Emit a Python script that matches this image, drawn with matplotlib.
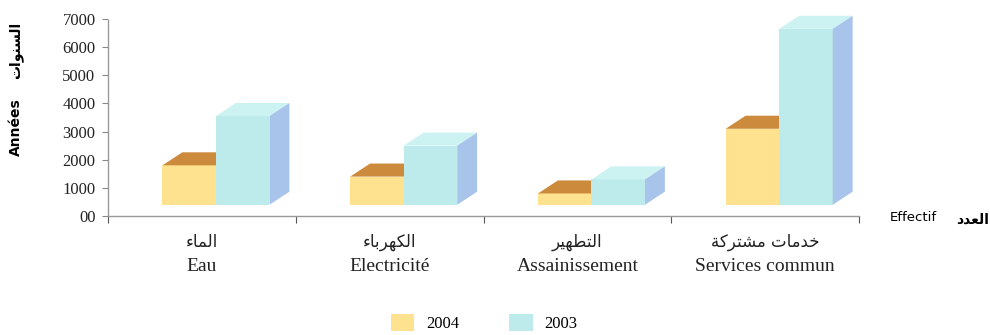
import matplotlib
matplotlib.use('Agg')
import matplotlib.pyplot as plt
from matplotlib.patches import Polygon
import numpy as np

# data
categories_fr = ['Eau', 'Electricité', 'Assainissement', 'Services commun']
# arabic labels written in presentation forms, visual order (matplotlib does no shaping)
categories_ar = ['\u0621\uFE8E\uFEE4\uFEDF\uFE8D',
                 '\u0621\uFE8E\uFE91\uFEAE\uFEEC\uFEDC\uFEDF\uFE8D',
                 '\uFEAE\uFEF4\uFEEC\uFEC4\uFE98\uFEDF\uFE8D',
                 '\uFE94\uFEDB\uFEAE\uFE98\uFEB8\uFEE3 \uFE95\uFE8E\uFEE3\uFEAA\uFEA7']
vals_2004 = [1800, 1400, 800, 3100]
vals_2003 = [3550, 2500, 1300, 6650]
series_labels = ['2004', '2003']
yticks = [0, 1000, 2000, 3000, 4000, 5000, 6000, 7000]
ytick_labels = ['00', '1000', '2000', '3000', '4000', '5000', '6000', '7000']

ylabel_ar = '\uFE95\uFE8D\uFEEE\uFEE8\uFEB4\uFEDF\uFE8D'
xlabel_ar = '\uFEA9\uFEAA\uFECC\uFEDF\uFE8D'

# 3d look
base = 400
bar_w = 0.285
depth_x = 0.106
depth_y = 464
front = {'2004': '#FFE28F', '2003': '#BDEAEA'}
top = {'2004': '#CC8A3C', '2003': '#CDF2F2'}
side = {'2004': '#B87A34', '2003': '#A9C4EA'}

serif = 'Liberation Serif'
plt.rcParams['hatch.color'] = '#ffffff'
plt.rcParams['hatch.linewidth'] = 0.4

fig = plt.figure(figsize=(9.9, 3.35), dpi=100)
ax = fig.add_axes([0.1091, 0.3552, 0.7586, 0.5881])

x = np.arange(len(categories_fr))
left0 = x + 0.29
for name, vals, offs in zip(series_labels, [vals_2004, vals_2003], [0.0, bar_w]):
    lefts = left0 + offs
    ax.bar(lefts, np.array(vals) - base, width=bar_w, bottom=base, align='edge',
           color=front[name], edgecolor='none', linewidth=0, label=name)
    for l, v in zip(lefts, vals):
        ax.add_patch(Polygon([[l, v], [l + bar_w, v], [l + bar_w + depth_x, v + depth_y],
                              [l + depth_x, v + depth_y]], closed=True,
                             facecolor=top[name], edgecolor='none', clip_on=False))
        if name == '2003':
            ax.add_patch(Polygon([[l + bar_w, base], [l + bar_w + depth_x, base + depth_y],
                                  [l + bar_w + depth_x, v + depth_y], [l + bar_w, v]],
                                 closed=True, facecolor=side[name], edgecolor='none',
                                 clip_on=False))

ax.set_xlim(0, 4)
ax.set_ylim(0, 7000)
ax.set_yticks(yticks)
ax.set_yticklabels(ytick_labels, fontfamily=serif, fontsize=12, color='#222222')
ax.set_xticks([0, 1, 2, 3, 4])
ax.set_xticklabels([])
ax.tick_params(axis='y', length=4, width=0.8, color='#888888', pad=5)
ax.tick_params(axis='x', length=5, width=0.8, color='#555555', direction='out')
for s in ['top', 'right']:
    ax.spines[s].set_visible(False)
for s in ['left', 'bottom']:
    ax.spines[s].set_color('#999999')
    ax.spines[s].set_linestyle((0, (1, 1)))
    ax.spines[s].set_linewidth(1.0)

for i in range(len(categories_fr)):
    ax.text(i + 0.5, -0.13, categories_ar[i], transform=ax.get_xaxis_transform(),
            ha='center', va='center', fontsize=12, family=['DejaVu Sans'], color='#222222')
    ax.text(i + 0.5, -0.255, categories_fr[i], transform=ax.get_xaxis_transform(),
            ha='center', va='center', fontsize=14, family=serif, color='#222222')

fig.text(0.016, 0.85, ylabel_ar, rotation=90, ha='center', va='center',
         fontsize=10, family=['DejaVu Sans'], fontweight='bold')
fig.text(0.016, 0.62, 'Années', rotation=90, ha='center', va='center',
         fontsize=10, family='DejaVu Sans', fontweight='bold')
fig.text(0.899, 0.35, 'Effectif', ha='left', va='center', fontsize=9.5, family='DejaVu Sans')
fig.text(0.966, 0.345, xlabel_ar, ha='left', va='center', fontsize=10,
         family=['DejaVu Sans'], fontweight='bold')

fig.legend(loc='center', bbox_to_anchor=(0.489, 0.036), ncol=2, frameon=False,
           prop={'family': serif, 'size': 12}, handlelength=1.4, handleheight=1.26,
           handletextpad=0.7, columnspacing=3.0, borderpad=0)

fig.savefig('out.png', dpi=100)
